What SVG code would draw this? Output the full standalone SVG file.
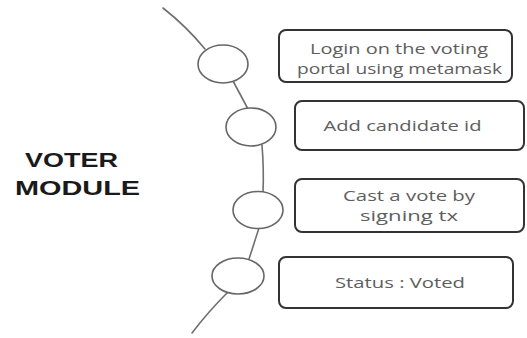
<svg xmlns="http://www.w3.org/2000/svg" width="527" height="338" viewBox="0 0 527 338">
  <style>
    .bg { fill: #ffffff; }
    .title { font-family: "Liberation Sans", Arial, sans-serif; font-weight: bold; font-size: 21px; fill: #1a1a1a; }
    .step rect { fill: #ffffff; stroke: #333333; stroke-width: 2; }
    .step text { font-family: "Open Sans", "Noto Sans", sans-serif; font-size: 15px; fill: #5e5e5e; text-anchor: middle; }
    .dot { fill: #ffffff; stroke: #666666; stroke-width: 1.6; }
    .connectors path { fill: none; stroke: #6f6f6f; stroke-width: 1.6; stroke-linecap: round; }
  </style>
  <rect class="bg" x="0" y="0" width="527" height="338"/>

  <!-- heading -->
  <g id="heading">
    <text class="title" x="71.5" y="167" text-anchor="middle" textLength="93" lengthAdjust="spacingAndGlyphs">VOTER</text>
    <text class="title" x="77.5" y="195" text-anchor="middle" textLength="125" lengthAdjust="spacingAndGlyphs">MODULE</text>
  </g>

  <!-- timeline line segments between the markers -->
  <g id="connectors" class="connectors">
    <path d="M163,8 Q186,26 205,49"/>
    <path d="M233,81 L248,109"/>
    <path d="M262,145 Q264,170 263,192"/>
    <path d="M259,228 L249,259"/>
    <path d="M227,293 Q208,312 192,333"/>
  </g>

  <!-- timeline markers -->
  <g id="marker-1"><ellipse class="dot" cx="223" cy="64" rx="25" ry="19"/></g>
  <g id="marker-2"><ellipse class="dot" cx="251" cy="127" rx="25" ry="19"/></g>
  <g id="marker-3"><ellipse class="dot" cx="258" cy="210" rx="25" ry="18.5"/></g>
  <g id="marker-4"><ellipse class="dot" cx="238" cy="276" rx="26" ry="18"/></g>

  <!-- step boxes -->
  <g id="step-login" class="step">
    <rect x="279" y="30" width="233" height="52" rx="7"/>
    <text x="399" y="54" textLength="178" lengthAdjust="spacingAndGlyphs">Login on the voting</text>
    <text x="399.5" y="74" textLength="205" lengthAdjust="spacingAndGlyphs">portal using metamask</text>
  </g>
  <g id="step-candidate" class="step">
    <rect x="295" y="101" width="229" height="49" rx="7"/>
    <text x="402.5" y="131" textLength="158" lengthAdjust="spacingAndGlyphs">Add candidate id</text>
  </g>
  <g id="step-vote" class="step">
    <rect x="295" y="179" width="229" height="53" rx="7"/>
    <text x="409" y="201" textLength="132" lengthAdjust="spacingAndGlyphs">Cast a vote by</text>
    <text x="409" y="221" textLength="98" lengthAdjust="spacingAndGlyphs">signing tx</text>
  </g>
  <g id="step-status" class="step">
    <rect x="279" y="257" width="234" height="51" rx="7"/>
    <text x="400" y="288" textLength="130" lengthAdjust="spacingAndGlyphs">Status : Voted</text>
  </g>
</svg>
